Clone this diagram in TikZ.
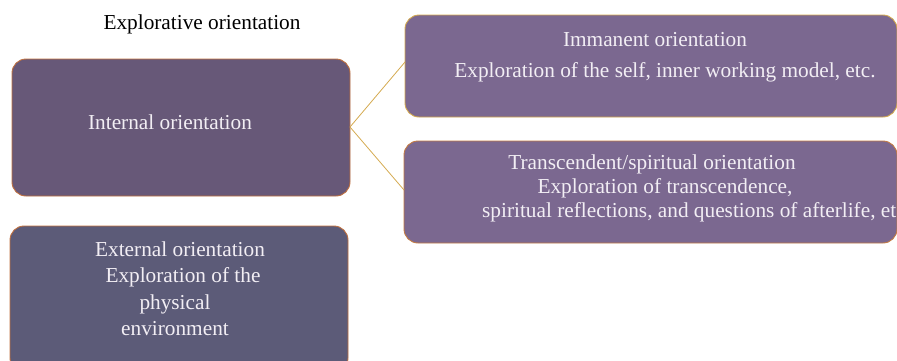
\documentclass[tikz,border=0pt]{standalone}
\usepackage{fontspec}
\setmainfont{Liberation Serif}
\definecolor{boxA}{HTML}{675878}
\definecolor{boxB}{HTML}{7B6890}
\definecolor{boxC}{HTML}{5C5B78}
\definecolor{edgeO}{HTML}{C0703F}
\definecolor{edgeG}{HTML}{D4A94E}
\definecolor{txt}{HTML}{F2EEF4}
\tikzset{
  box/.style={draw=edgeO, line width=0.9pt, rounded corners=14pt, inner sep=0pt},
  line/.style={text=txt, font=\fontsize{21.3}{24}\selectfont, inner sep=0pt, anchor=base},
  conn/.style={draw=edgeG, line width=0.8pt}
}
\begin{document}
\begin{tikzpicture}[x=1pt,y=-1pt]
\useasboundingbox (0,0) rectangle (897,360);
\clip (0,0) rectangle (897,360);
\node[font=\fontsize{21.3}{24}\selectfont, anchor=base] (title) at (202,29) {Explorative orientation};
% boxes
\draw[box, fill=boxA] (12,59) rectangle (350,196);
\coordinate (intE) at (350,127);
\draw[box, fill=boxB, draw=edgeG] (405,15) rectangle (897,117);
\coordinate (immW) at (405,62);
\draw[box, fill=boxB, draw=edgeO!80!edgeG] (404,141) rectangle (897,243);
\coordinate (trW) at (404,190);
\draw[box, fill=boxC] (10,226) rectangle (348,372);
% connectors
\draw[conn] (intE) -- (immW);
\draw[conn] (intE) -- (trW);
% texts
\node[line] (int) at (170,129) {Internal orientation};
\node[line] (imm1) at (655,46) {Immanent orientation};
\node[line] (imm2) at (665,77) {Exploration of the self, inner working model, etc.};
\node[line] (tr1) at (652,169) {Transcendent/spiritual orientation};
\node[line] (tr2) at (665,193) {Exploration of transcendence,};
\node[line, anchor=base west] (tr3) at (482,217) {spiritual reflections, and questions of afterlife, etc.};
\node[line] (ex1) at (180,256) {External orientation};
\node[line] (ex2) at (183,282) {Exploration of the};
\node[line] (ex3) at (175,309) {physical};
\node[line] (ex4) at (175,335) {environment};
\end{tikzpicture}
\end{document}
